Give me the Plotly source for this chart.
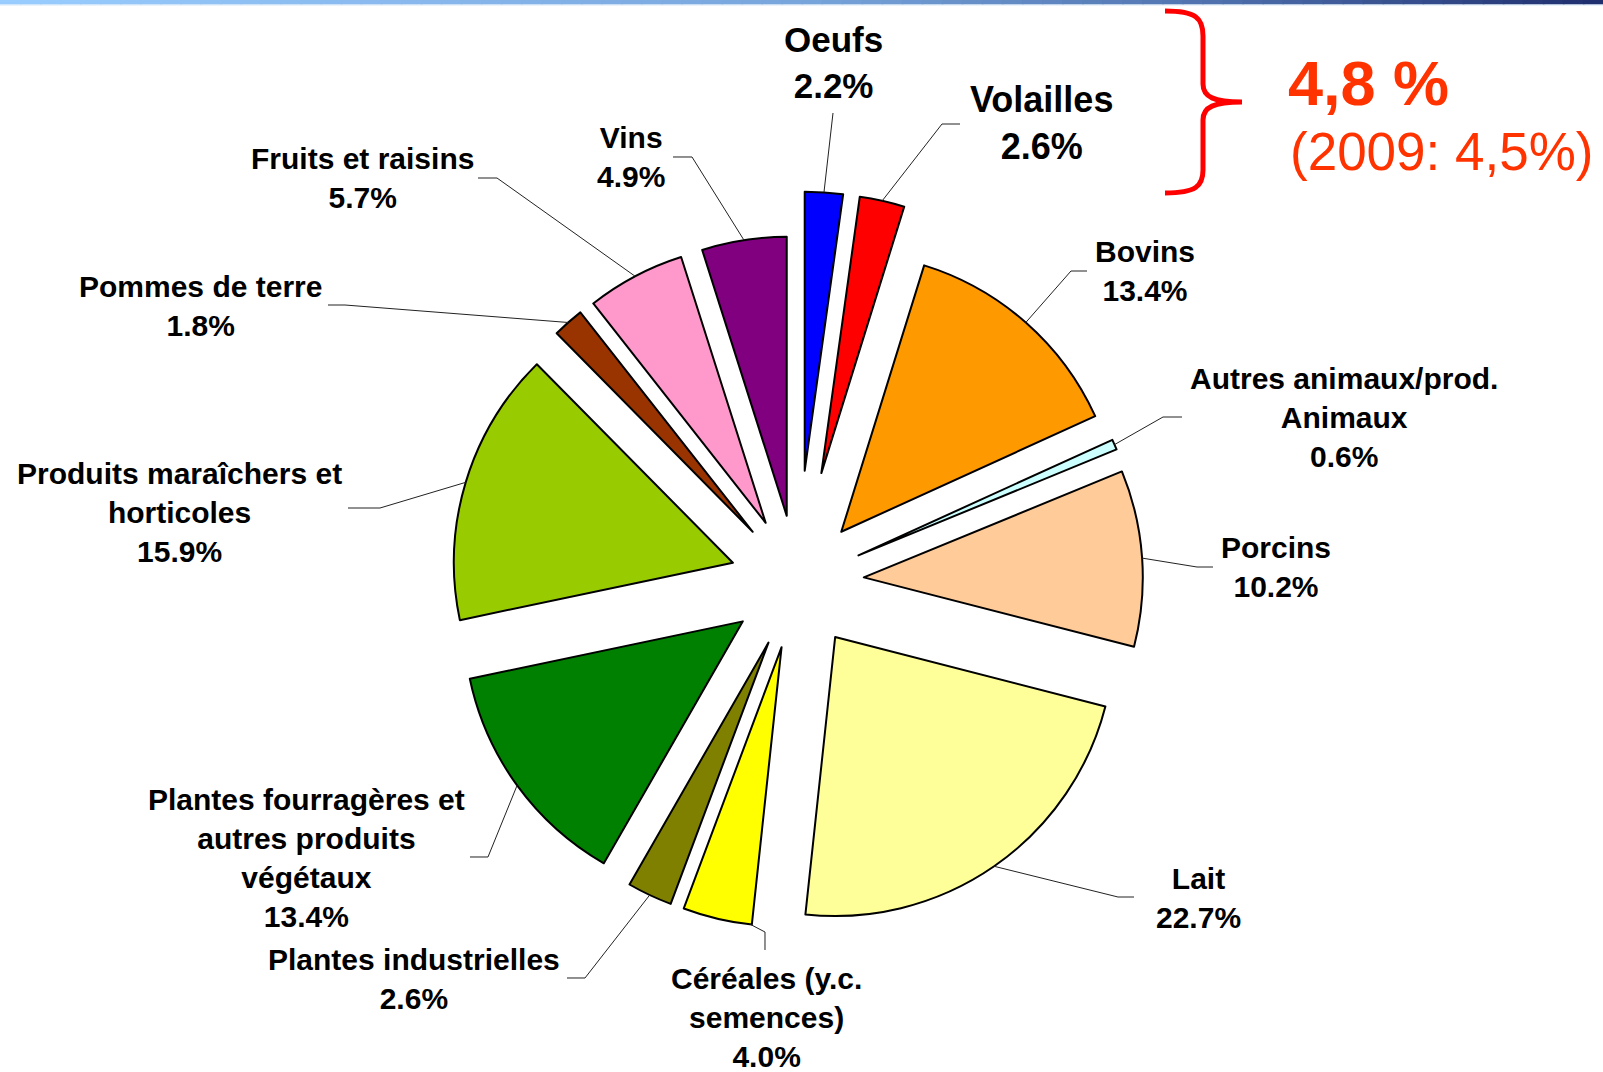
import math
import plotly.graph_objects as go

# ---------------- data ----------------
categories = ["Oeufs", "Volailles", "Bovins", "Autres animaux/prod.<br>Animaux", "Porcins", "Lait",
              "Céréales (y.c.<br>semences)", "Plantes industrielles",
              "Plantes fourragères et<br>autres produits<br>végétaux",
              "Produits maraîchers et<br>horticoles", "Pommes de terre", "Fruits et raisins", "Vins"]
shares = [2.2, 2.6, 13.4, 0.6, 10.2, 22.7, 4.0, 2.6, 13.4, 15.9, 1.8, 5.7, 4.9]
highlight_total = "4,8 %"
highlight_prev = "(2009: 4,5%)"

# ---------------- styles / layout ----------------
colors = ["#0000FF", "#FF0000", "#FF9900", "#CCFFFF", "#FFCC99", "#FFFF99",
          "#FFFF00", "#808000", "#008000", "#99CC00", "#993300", "#FF99CC", "#800080"]
pulls = [0.40, 0.40, 0.24, 0.24, 0.24, 0.24, 0.24, 0.24, 0.24, 0.24, 0.24, 0.24, 0.24]
label_sizes = [35, 36, 30, 30, 30, 30, 30, 30, 30, 30, 30, 30, 30]
# label centres (px) and leader-line elbow / end points (px)
label_pos = [(833, 62), (1041, 123), (1145, 271), (1344, 417), (1276, 567), (1198, 898),
             (766, 1017), (414, 979), (306, 858), (179, 512), (200, 306), (362, 178), (631, 157)]
leader_elbow = [(833, 113), (942, 124), (1071, 271), (1163, 417), (1197, 567), (1118, 897),
                (765, 932), (585, 978), (488, 857), (380, 508), (345, 305), (497, 178), (692, 157)]
leader_end = [(833, 113), (960, 124), (1087, 271), (1182, 417), (1213, 567), (1134, 897),
              (765, 950), (567, 978), (470, 857), (348, 508), (328, 305), (478, 178), (673, 157)]
leader_anchor = [0.5, 0.5, 0.5, 0.5, 0.5, 0.5, 0.02, 0.5, 0.5, 0.5, 0.5, 0.5, 0.5]

W, H = 1603, 1072
CX, CY = 797, 582
R = 279
FONT = "Liberation Sans, Arial, sans-serif"
ACCENT = "#FF3300"


def px(x, y):
    return x / W, 1 - y / H


half = R * (1 + max(pulls))
dom_x = [(CX - half) / W, (CX + half) / W]
dom_y = [(H - CY - half) / H, (H - CY + half) / H]

fig = go.Figure(go.Pie(
    labels=[c.replace("<br>", " ") for c in categories],
    values=shares,
    sort=False, direction="clockwise", rotation=0,
    pull=pulls,
    marker=dict(colors=colors, line=dict(color="black", width=2)),
    textinfo="none", hoverinfo="label+percent",
    domain=dict(x=dom_x, y=dom_y),
    showlegend=False,
))

shapes = []
annotations = []

# leader lines computed from slice geometry
total = sum(shares)
cum = 0.0
for i, v in enumerate(shares):
    th_mid = math.radians(360 * (cum + v / 2) / total)
    th_a = math.radians(360 * (cum + v * leader_anchor[i]) / total)
    cum += v
    pcx = CX + pulls[i] * R * math.sin(th_mid)
    pcy = CY - pulls[i] * R * math.cos(th_mid)
    sx = pcx + R * math.sin(th_a)
    sy = pcy - R * math.cos(th_a)
    pts = [(sx, sy), leader_elbow[i], leader_end[i]]
    path = "M " + " L ".join("%f,%f" % px(*p) for p in pts)
    shapes.append(dict(type="path", path=path, xref="paper", yref="paper",
                       line=dict(color="#222222", width=1)))
    lines = categories[i].split("<br>") + ["%.1f%%" % v]
    text = "<br>".join("<b>%s</b>" % l for l in lines)
    lx, ly = px(*label_pos[i])
    annotations.append(dict(x=lx, y=ly, xref="paper", yref="paper", text=text,
                            showarrow=False, xanchor="center", yanchor="middle",
                            align="center", font=dict(family=FONT, size=label_sizes[i], color="black")))

# curly brace
brace_pts = "M {} C {} {} {} L {} C {} {} {} C {} {} {} L {} C {} {} {}".format(
    *["%f,%f" % px(*p) for p in [
        (1165, 11), (1196, 11), (1203, 18), (1203, 36), (1203, 84),
        (1203, 97), (1214, 102), (1242, 102),
        (1214, 102), (1203, 107), (1203, 120), (1203, 170),
        (1203, 186), (1196, 193), (1165, 193)]])
shapes.append(dict(type="path", path=brace_pts, xref="paper", yref="paper",
                   line=dict(color="#FF0000", width=5)))

annotations.append(dict(x=px(1286, 0)[0], y=px(0, 83)[1], xref="paper", yref="paper",
                        text="<b>%s</b>" % highlight_total, showarrow=False,
                        xanchor="left", yanchor="middle",
                        font=dict(family=FONT, size=63, color=ACCENT)))
annotations.append(dict(x=px(1288, 0)[0], y=px(0, 152)[1], xref="paper", yref="paper",
                        text=highlight_prev, showarrow=False,
                        xanchor="left", yanchor="middle",
                        font=dict(family=FONT, size=53, color=ACCENT)))

# top gradient bar
stops = [(0.0, (153, 204, 255)), (0.5, (120, 165, 220)), (0.75, (80, 115, 175)), (1.0, (30, 45, 110))]


def grad(t):
    for (t0, c0), (t1, c1) in zip(stops[:-1], stops[1:]):
        if t <= t1:
            f = (t - t0) / (t1 - t0)
            return "rgb(%d,%d,%d)" % tuple(round(a + (b - a) * f) for a, b in zip(c0, c1))
    return "rgb(%d,%d,%d)" % stops[-1][1]


NSEG = 80
for k in range(NSEG):
    x0, x1 = k / NSEG, (k + 1) / NSEG + 0.001
    shapes.append(dict(type="rect", xref="paper", yref="paper", x0=x0, x1=x1,
                       y0=1 - 4.5 / H, y1=1, fillcolor=grad((k + 0.5) / NSEG),
                       line=dict(width=0), layer="above"))
shapes.append(dict(type="rect", xref="paper", yref="paper", x0=0, x1=1,
                   y0=1 - 5.5 / H, y1=1 - 4.5 / H, fillcolor="#D6E6F6",
                   line=dict(width=0), layer="above"))

fig.update_layout(
    width=W, height=H, autosize=False,
    margin=dict(l=0, r=0, t=0, b=0),
    paper_bgcolor="white", plot_bgcolor="white",
    shapes=shapes, annotations=annotations,
    font=dict(family=FONT),
)

fig.write_html("out.html", config={"displayModeBar": False},
               post_script="document.body.style.margin='0';document.body.style.overflow='hidden';")
